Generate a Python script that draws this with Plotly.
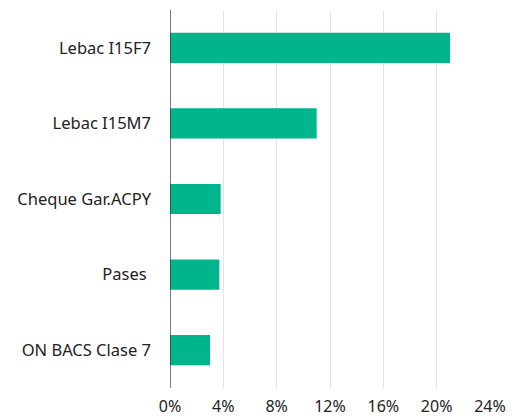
import plotly.graph_objects as go

# Portfolio holdings, share of total (%)
categories = ["Lebac I15F7", "Lebac I15M7", "Cheque Gar.ACPY", "Pases ", "ON BACS Clase 7"]
shares = [21.0, 11.0, 3.8, 3.7, 3.0]
tick_values = [0, 4, 8, 12, 16, 20, 24]
tick_labels = ["0%", "4%", "8%", "12%", "16%", "20%", "24%"]

fig = go.Figure(
    go.Bar(
        x=shares,
        y=categories,
        orientation="h",
        marker=dict(color="#00b48c", line=dict(width=0)),
        hoverinfo="skip",
    )
)

fig.update_layout(
    width=521,
    height=420,
    margin=dict(l=170, r=31, t=10, b=32),
    paper_bgcolor="white",
    plot_bgcolor="white",
    bargap=0.6,
    showlegend=False,
    font=dict(family="Noto Sans", size=16, color="#222"),
)

fig.update_xaxes(
    range=[0, 24],
    tickvals=tick_values,
    ticktext=tick_labels,
    showgrid=True,
    gridcolor="#e5e5e5",
    gridwidth=1,
    zeroline=False,
    showline=False,
    ticks="",
    automargin=False,
    ticklabelstandoff=7,
    tickfont=dict(size=16, color="#222"),
    fixedrange=True,
)

fig.update_yaxes(
    categoryorder="array",
    categoryarray=categories[::-1],
    range=[-0.5, 4.5],
    showgrid=False,
    zeroline=False,
    showline=False,
    ticks="",
    automargin=False,
    ticklabelstandoff=18,
    tickfont=dict(size=16.5, color="#222"),
    fixedrange=True,
)

# Baseline at 0%
fig.add_shape(
    type="line", xref="x", yref="paper",
    x0=0, x1=0, y0=0, y1=1,
    line=dict(color="#333", width=1.3),
)

fig.write_html("out.html")
